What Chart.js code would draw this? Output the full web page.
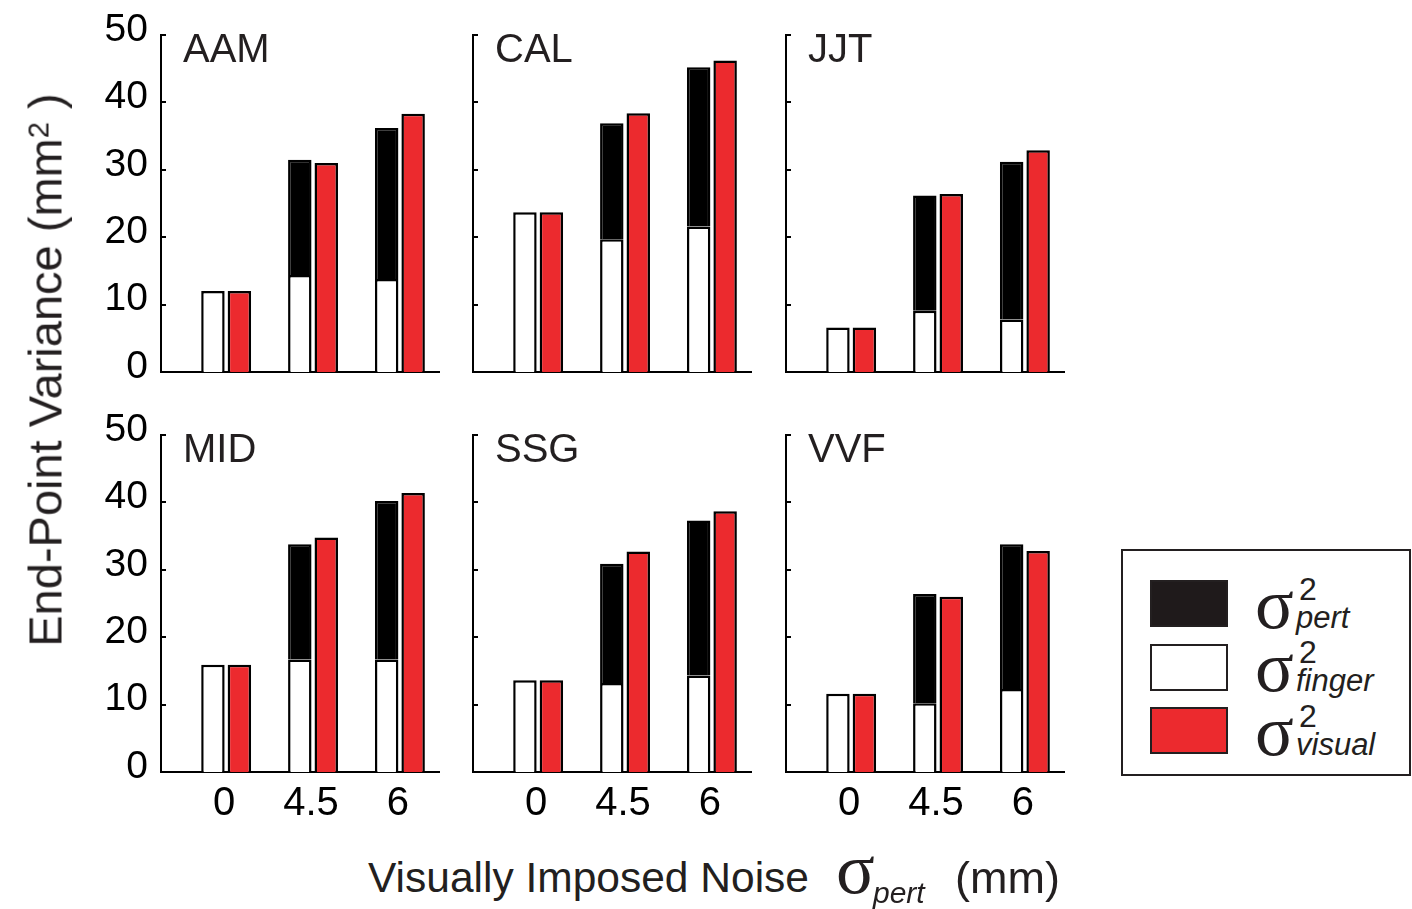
<!DOCTYPE html>
<html><head><meta charset="utf-8">
<script src="https://cdn.jsdelivr.net/npm/chart.js@4.4.1/dist/chart.umd.min.js"></script>
<style>
html,body{margin:0;padding:0;background:#fff;}
#wrap{position:relative;width:1412px;height:909px;overflow:hidden;background:#fff;}
canvas.cv{position:absolute;}
.t{position:absolute;white-space:nowrap;line-height:1;font-family:"Liberation Sans",Arial,Helvetica,sans-serif;color:#231f20;}
.sw{position:absolute;box-sizing:border-box;border:2px solid #231f20;}
</style></head>
<body><div id="wrap"></div>
<script>
// ---------------- data ----------------
const subjects = ['AAM', 'CAL', 'JJT', 'MID', 'SSG', 'VVF'];
const noiseLabels = ['0', '4.5', '6'];
const yTicks = [0, 10, 20, 30, 40, 50];

const AAM_finger = [12.0, 14.4, 13.8];
const AAM_pert   = [0, 17.1, 22.4];
const AAM_visual = [12.0, 31.0, 38.3];

const CAL_finger = [23.7, 19.7, 21.6];
const CAL_pert   = [0, 17.2, 23.6];
const CAL_visual = [23.7, 38.4, 46.2];

const JJT_finger = [6.6, 9.1, 7.8];
const JJT_pert   = [0, 17.1, 23.4];
const JJT_visual = [6.6, 26.4, 32.9];

const MID_finger = [15.9, 16.7, 16.7];
const MID_pert   = [0, 17.1, 23.5];
const MID_visual = [15.9, 34.8, 41.4];

const SSG_finger = [13.6, 13.2, 14.3];
const SSG_pert   = [0, 17.7, 23.0];
const SSG_visual = [13.6, 32.7, 38.7];

const VVF_finger = [11.6, 10.2, 12.3];
const VVF_pert   = [0, 16.2, 21.5];
const VVF_visual = [11.6, 26.0, 32.8];

const seriesBySubject = [
  [AAM_finger, AAM_pert, AAM_visual],
  [CAL_finger, CAL_pert, CAL_visual],
  [JJT_finger, JJT_pert, JJT_visual],
  [MID_finger, MID_pert, MID_visual],
  [SSG_finger, SSG_pert, SSG_visual],
  [VVF_finger, VVF_pert, VVF_visual]
];

// ---------------- layout / style ----------------
const FONT = '"Liberation Sans", Arial, Helvetica, sans-serif';
const SERIF = '"Liberation Serif", "Times New Roman", serif';
const RED = '#ec2a2e';
const axisX = [161, 473, 786];
const rowTop = [35, 435];
const plotW = 278, plotH = 337;
const padL = 100, padT = 45, padR = 12, padB = 60;

const wrap = document.getElementById('wrap');

const inwardTicks = {
  id: 'inwardTicks',
  afterDraw(chart) {
    const y = chart.scales.y, ctx = chart.ctx, L = chart.chartArea.left;
    ctx.save();
    ctx.strokeStyle = '#000';
    ctx.lineWidth = 2;
    y.ticks.forEach(t => {
      const p = Math.round(y.getPixelForValue(t.value));
      ctx.beginPath(); ctx.moveTo(L, p); ctx.lineTo(L + 5, p); ctx.stroke();
    });
    ctx.restore();
  }
};

function toPoints(arr) { return arr.map((v, i) => ({ x: i + 1, y: v })); }

// --------------- text helpers ---------------
function addText(txt, x, baseline, size, family, style, color) {
  const d = document.createElement('div');
  d.className = 't';
  d.textContent = txt;
  d.style.fontSize = size + 'px';
  d.style.fontFamily = family;
  d.style.fontStyle = style || 'normal';
  if (color) d.style.color = color;
  const asc = family === SERIF ? 0.891 : 0.905, desc = family === SERIF ? 0.216 : 0.212;
  const off = (1 - (asc + desc)) / 2 * size + asc * size;
  d.style.left = x + 'px';
  d.style.top = (baseline - off) + 'px';
  wrap.appendChild(d);
  return d;
}

subjects.forEach((name, p) => {
  const col = p % 3, row = Math.floor(p / 3);
  const cv = document.createElement('canvas');
  cv.className = 'cv';
  const W = padL + plotW + padR, H = padT + plotH + padB;
  cv.width = W; cv.height = H;
  cv.style.width = W + 'px'; cv.style.height = H + 'px';
  cv.style.left = (axisX[col] - padL) + 'px';
  cv.style.top = (rowTop[row] - padT) + 'px';
  wrap.appendChild(cv);
  const [finger, pert, visual] = seriesBySubject[p];
  new Chart(cv, {
    type: 'bar',
    data: {
      datasets: [
        { label: 'finger', data: toPoints(finger), stack: 'a', backgroundColor: '#fff', borderColor: '#000', borderWidth: 2.5 },
        { label: 'pert', data: toPoints(pert), stack: 'a', backgroundColor: '#000', borderColor: '#000', borderWidth: 2.5 },
        { label: 'visual', data: toPoints(visual), stack: 'b', backgroundColor: RED, borderColor: '#000', borderWidth: 2.5 }
      ]
    },
    options: {
      responsive: false, animation: false, devicePixelRatio: 1,
      layout: { padding: { top: padT, right: padR, left: 0, bottom: 0 } },
      plugins: { legend: { display: false }, tooltip: { enabled: false }, title: { display: false } },
      datasets: { bar: { categoryPercentage: 0.609, barPercentage: 0.887, borderSkipped: 'start' } },
      scales: {
        x: {
          type: 'linear', min: 0.25, max: 3.45, offset: false,
          grid: { display: false, drawTicks: false },
          border: { display: true, color: '#000', width: 2 },
          afterBuildTicks: s => { s.ticks = noiseLabels.map((_, i) => ({ value: i + 1 })); },
          afterFit: s => { s.height = padB; },
          ticks: {
            display: row === 1, autoSkip: false, maxRotation: 0, padding: 8, labelOffset: -2,
            color: '#000', font: { family: FONT, size: 40 },
            callback: (v, i) => noiseLabels[i]
          }
        },
        y: {
          stacked: true, min: 0, max: 50,
          grid: { display: false, drawTicks: false },
          border: { display: true, color: '#000', width: 2 },
          afterBuildTicks: s => { s.ticks = yTicks.map(v => ({ value: v })); },
          afterFit: s => { s.width = padL; },
          ticks: {
            display: col === 0, padding: 13, labelOffset: -5,
            color: '#000', font: { family: FONT, size: 39 },
            callback: v => String(v)
          }
        }
      }
    },
    plugins: [inwardTicks]
  });

  // panel title
  addText(name, axisX[col] + 22, rowTop[row] + 27, 40, FONT, 'normal');
});

// y-axis title (rotated)
(function () {
  const d = document.createElement('div');
  d.className = 't';
  d.style.fontSize = '47px';
  d.innerHTML = 'End-Point Variance (mm<span style="position:relative;top:-0.45em;font-size:0.62em">2</span> )';
  d.style.left = '45px'; d.style.top = '370px';
  d.style.transform = 'translate(-50%,-50%) rotate(-90deg)';
  wrap.appendChild(d);
})();

// x-axis title
addText('Visually Imposed Noise', 368, 893, 42.5, FONT, 'normal');
addText('\u03C3', 836, 893, 72, SERIF, 'normal');
addText('pert', 873, 903, 30, FONT, 'italic');
addText('(mm)', 955, 893, 45, FONT, 'normal');

// legend
(function () {
  const box = document.createElement('div');
  box.style.cssText = 'position:absolute;left:1121px;top:549px;width:290px;height:227px;box-sizing:border-box;border:2px solid #231f20;background:#fff;';
  wrap.appendChild(box);
  const items = [
    { fill: '#1f1a1b', sub: 'pert' },
    { fill: '#ffffff', sub: 'finger' },
    { fill: RED, sub: 'visual' }
  ];
  items.forEach((it, k) => {
    const top = 580 + k * 63.5;
    const sw = document.createElement('div');
    sw.className = 'sw';
    sw.style.left = '1150px'; sw.style.top = top + 'px';
    sw.style.width = '78px'; sw.style.height = '47px';
    sw.style.background = it.fill;
    wrap.appendChild(sw);
    addText('\u03C3', 1255, 628 + k * 63.5, 72, SERIF, 'normal');
    addText('2', 1299, 600 + k * 63.5, 32, FONT, 'normal');
    addText(it.sub, 1296, 628 + k * 63.5, 31, FONT, 'italic');
  });
})();
</script>
</body></html>
